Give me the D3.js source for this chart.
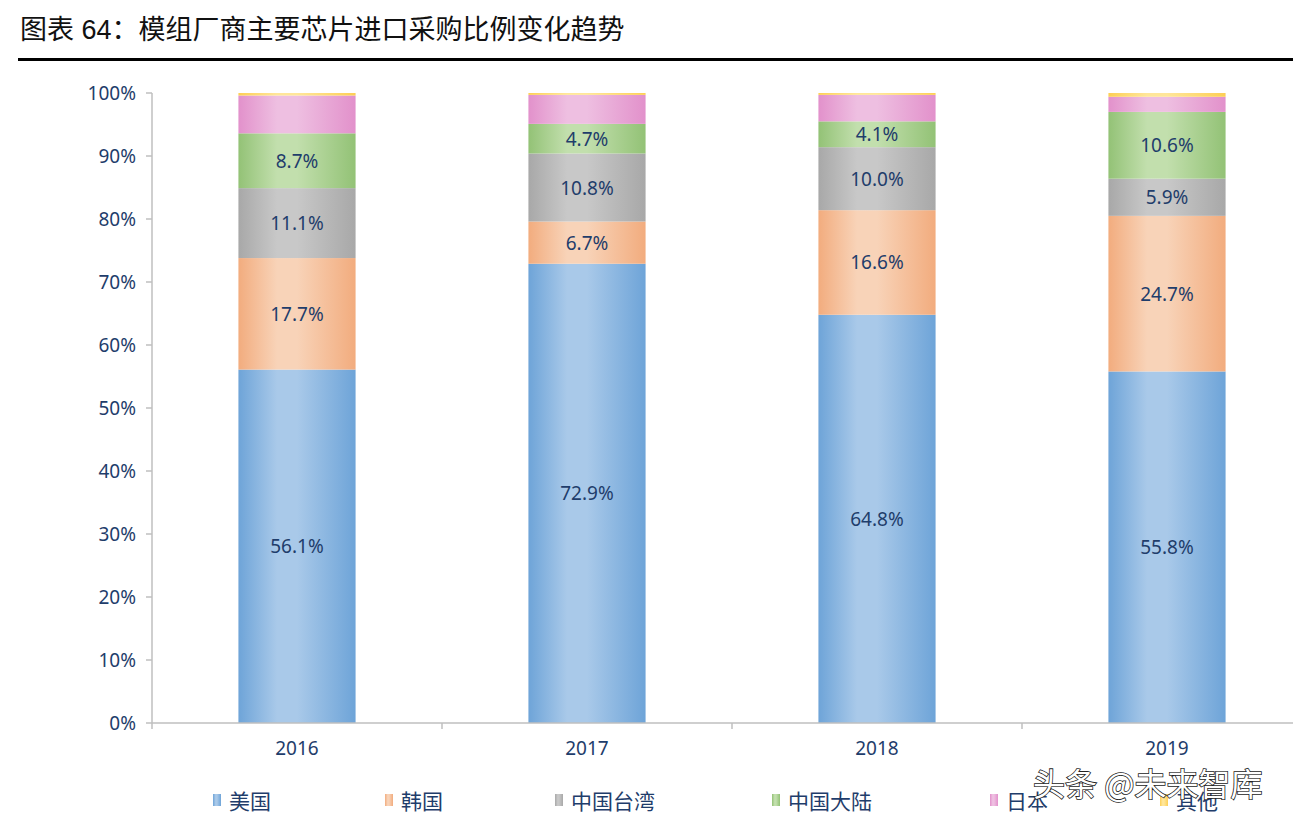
<!DOCTYPE html>
<html><head><meta charset="utf-8">
<script src="https://cdn.jsdelivr.net/npm/d3@7"></script>
<style>body{margin:0;background:#fff;}svg{display:block;}</style>
</head><body>
<svg id="c" width="1293" height="824"></svg>
<script>
const years = ["2016","2017","2018","2019"];
const seriesNames = ["美国","韩国","中国台湾","中国大陆","日本","其他"];
const usa      = [56.1, 72.9, 64.8, 55.8];
const korea    = [17.7, 6.7, 16.6, 24.7];
const taiwan   = [11.1, 10.8, 10.0, 5.9];
const mainland = [8.7, 4.7, 4.1, 10.6];
const japan    = [6.0, 4.6, 4.2, 2.4];
const other    = [0.4, 0.3, 0.3, 0.6];
const yTicks = [0,10,20,30,40,50,60,70,80,90,100];
const showLabel = [true,true,true,true,false,false];

const seriesVals = [usa, korea, taiwan, mainland, japan, other];
const edgeCol = ["#6ea4d8","#f2ac7e","#a8a8a8","#93c276","#e291cb","#fdcf55"];
const lightCol = ["#a9c9e9","#f8d3b8","#c8c8c8","#c2dfad","#eebfe1","#ffe69a"];

const svg = d3.select("#c");
const textCol = "#1f3d6b";
const font = "'Noto Sans','DejaVu Sans','Noto Sans CJK SC',sans-serif";

// title
svg.append("text").attr("x",20).attr("y",39).attr("font-family","'Liberation Sans','Noto Sans CJK SC',sans-serif")
  .attr("font-size",27).attr("fill","#111").text("图表 64：模组厂商主要芯片进口采购比例变化趋势");
svg.append("rect").attr("x",18).attr("y",58).attr("width",1275).attr("height",3).attr("fill","#000");

const defs = svg.append("defs");
seriesNames.forEach((s,i)=>{
  const g = defs.append("linearGradient").attr("id","g"+i).attr("x1","0").attr("x2","1").attr("y1","0").attr("y2","0");
  g.append("stop").attr("offset","0").attr("stop-color",edgeCol[i]);
  g.append("stop").attr("offset","0.33").attr("stop-color",lightCol[i]);
  g.append("stop").attr("offset","0.5").attr("stop-color",lightCol[i]);
  g.append("stop").attr("offset","1").attr("stop-color",edgeCol[i]);
});

const x = d3.scaleBand().domain(years).range([152,1312]).paddingInner(0.596).paddingOuter(0.298);
const y = d3.scaleLinear().domain([0,100]).range([723,93]);

const table = years.map((yr,j)=>{
  const o = {year:yr};
  seriesNames.forEach((s,i)=>o[s]=seriesVals[i][j]);
  return o;
});
const stack = d3.stack().keys(seriesNames)(table);

stack.forEach((layer,i)=>{
  const g = svg.append("g");
  g.selectAll("rect").data(layer).join("rect")
    .attr("x",d=>x(d.data.year)).attr("width",x.bandwidth())
    .attr("y",d=>y(d[1])).attr("height",d=>y(d[0])-y(d[1]))
    .attr("fill","url(#g"+i+")");
  if(showLabel[i]){
    g.selectAll("text").data(layer).join("text")
      .attr("x",d=>x(d.data.year)+x.bandwidth()/2)
      .attr("y",d=>(y(d[0])+y(d[1]))/2+7)
      .attr("text-anchor","middle").attr("font-family",font).attr("font-size",19)
      .attr("fill",textCol).text(d=>(d[1]-d[0]).toFixed(1)+"%");
  }
});

// axes
const axisCol = "#bfbfbf";
svg.append("line").attr("x1",152).attr("x2",152).attr("y1",93).attr("y2",723).attr("stroke",axisCol).attr("stroke-width",1.5);
svg.append("line").attr("x1",152).attr("x2",1312).attr("y1",723).attr("y2",723).attr("stroke",axisCol).attr("stroke-width",1.5);
yTicks.forEach(t=>{
  svg.append("line").attr("x1",146).attr("x2",152).attr("y1",y(t)).attr("y2",y(t)).attr("stroke",axisCol).attr("stroke-width",1.5);
  svg.append("text").attr("x",136).attr("y",y(t)+7).attr("text-anchor","end").attr("font-family",font)
    .attr("font-size",19).attr("fill",textCol).text(t+"%");
});
const step = x.step();
[0,1,2,3,4].forEach(k=>{
  const xx = 152 + k*step;
  svg.append("line").attr("x1",xx).attr("x2",xx).attr("y1",723).attr("y2",729).attr("stroke",axisCol).attr("stroke-width",1.5);
});
years.forEach(yr=>{
  svg.append("text").attr("x",x(yr)+x.bandwidth()/2).attr("y",755).attr("text-anchor","middle")
    .attr("font-family",font).attr("font-size",19).attr("fill",textCol).text(yr);
});

// legend
const legX = [213,385,555,772,990,1160];
seriesNames.forEach((s,i)=>{
  svg.append("rect").attr("x",legX[i]).attr("y",794).attr("width",8).attr("height",12).attr("fill","url(#g"+i+")");
  svg.append("text").attr("x",legX[i]+16).attr("y",809).attr("font-family","'Noto Sans CJK SC',sans-serif")
    .attr("font-size",21).attr("fill",textCol).text(s);
});

// watermark
svg.append("text").attr("x",1033).attr("y",796).attr("font-family","'Noto Sans CJK SC',sans-serif")
  .attr("font-size",32).attr("fill","#fff").attr("stroke","#222").attr("stroke-width",1.6)
  .attr("paint-order","stroke").text("头条 @未来智库");
</script>
</body></html>
